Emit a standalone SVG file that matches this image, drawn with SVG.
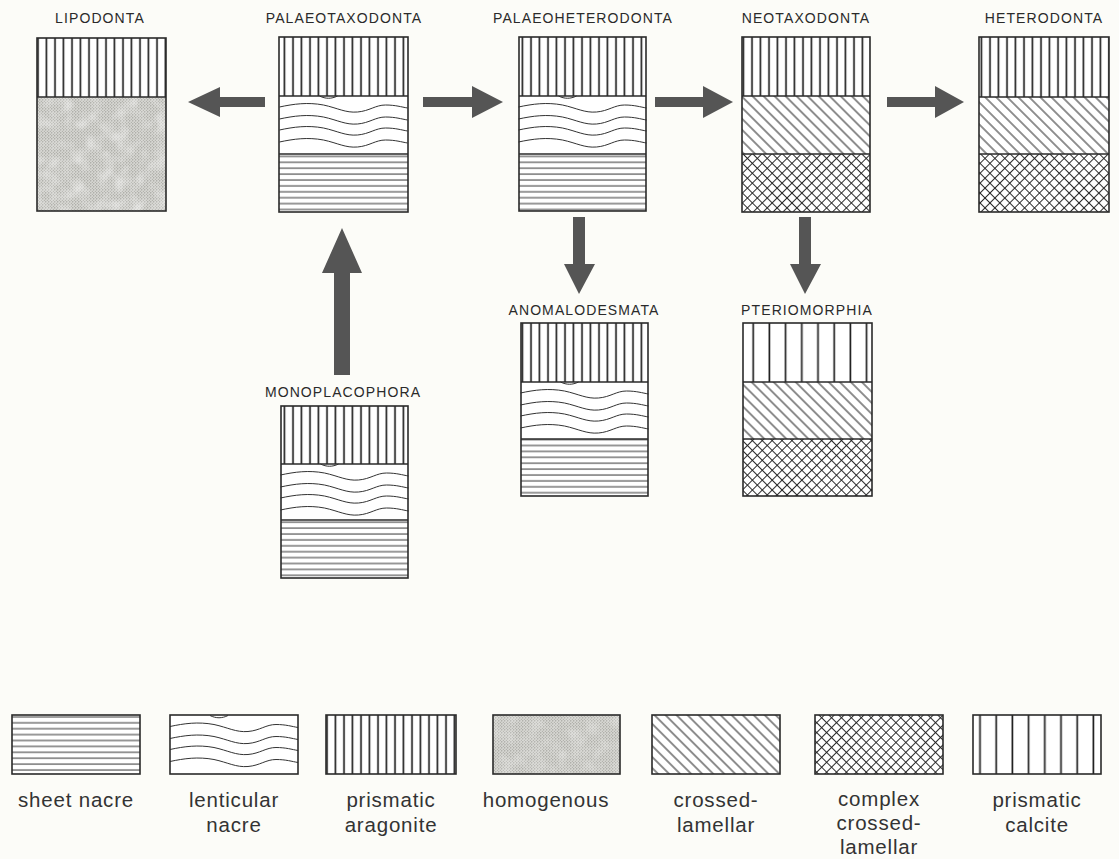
<svg xmlns="http://www.w3.org/2000/svg" xmlns:xlink="http://www.w3.org/1999/xlink" width="1119" height="859" viewBox="0 0 1119 859">
<style>
.lbl{font-family:"Liberation Sans",Arial,sans-serif;font-size:14px;letter-spacing:1.1px;fill:#2a2a2a;text-anchor:middle}
.leg{font-family:"Liberation Sans",Arial,sans-serif;font-size:20.5px;letter-spacing:0.8px;fill:#333;text-anchor:middle}
.box{fill:none;stroke:#2a2a2a;stroke-width:1.6}
.div{stroke:#2a2a2a;stroke-width:1.4}
.arrow{fill:#555}
.wave{fill:none;stroke:#333;stroke-width:1}
</style>
<defs>
<pattern id="arag" patternUnits="userSpaceOnUse" width="8.5" height="10">
<rect width="8.5" height="10" fill="#fff"/>
<line x1="4" y1="0" x2="4" y2="10" stroke="#222" stroke-width="1.7"/>
</pattern>
<pattern id="calc" patternUnits="userSpaceOnUse" width="16.2" height="10">
<rect width="16.2" height="10" fill="#fff"/>
<line x1="8" y1="0" x2="8" y2="10" stroke="#222" stroke-width="1.7"/>
</pattern>
<pattern id="sheet" patternUnits="userSpaceOnUse" width="20" height="5.9">
<rect width="20" height="5.9" fill="#fff"/>
<line x1="0" y1="3" x2="20" y2="3" stroke="#333" stroke-width="1"/>
</pattern>
<pattern id="cross" patternUnits="userSpaceOnUse" width="7.8" height="8" patternTransform="rotate(-45)">
<rect width="7.8" height="8" fill="#fff"/>
<line x1="3.9" y1="0" x2="3.9" y2="8" stroke="#222" stroke-width="1"/>
</pattern>
<pattern id="complex" patternUnits="userSpaceOnUse" width="7" height="7" patternTransform="rotate(45)">
<rect width="7" height="7" fill="#fff"/>
<line x1="3.5" y1="0" x2="3.5" y2="7" stroke="#222" stroke-width="0.95"/>
<line x1="0" y1="3.5" x2="7" y2="3.5" stroke="#222" stroke-width="0.95"/>
</pattern>
<pattern id="homo" patternUnits="userSpaceOnUse" width="3" height="3">
<rect width="3" height="3" fill="#d6d6d2"/>
<circle cx="0.8" cy="0.8" r="0.6" fill="#86867f"/>
<circle cx="2.3" cy="2.3" r="0.5" fill="#96968f"/>
</pattern>
<filter id="mottle" x="0" y="0" width="1" height="1">
<feTurbulence type="fractalNoise" baseFrequency="0.07" numOctaves="2" seed="4" result="n"/>
<feColorMatrix in="n" type="matrix" values="0 0 0 0 1  0 0 0 0 1  0 0 0 0 1  0 0 0 -2.2 1.3" result="w"/>
<feComposite in="w" in2="SourceAlpha" operator="in"/>
</filter>
<g id="lent">
<rect width="128" height="58" fill="#fff"/>
<path class="wave" d="M0,11 C14,8 28,6 44,9 C58,12 66,17 78,16 C90,15 96,9 106,9 C116,9 122,11 128,12"/>
<path class="wave" d="M0,23 C14,20 28,18 44,21 C58,24 66,29 78,28 C90,27 96,21 106,21 C116,21 122,23 128,24"/>
<path class="wave" d="M0,34 C14,31 28,29 44,32 C58,35 66,40 78,39 C90,38 96,32 106,32 C116,32 122,34 128,35"/>
<path class="wave" d="M0,46 C14,43 28,41 44,44 C58,47 66,52 78,51 C90,50 96,44 106,44 C116,44 122,46 128,47"/>
<path class="wave" d="M40,0 C46,3 52,3 58,0"/>
</g>
</defs>
<rect width="1119" height="859" fill="#fcfcf8"/>

<g id="connectors">
<polygon class="arrow" points="265,97 220,97 220,87 188,102 220,117 220,107 265,107"/>
<polygon class="arrow" points="423,97 472,97 472,86 503,102 472,118 472,107 423,107"/>
<polygon class="arrow" points="655,97 703,97 703,86 733,102 703,118 703,107 655,107"/>
<polygon class="arrow" points="887,97 935,97 935,86 964,102 935,118 935,107 887,107"/>
<polygon class="arrow" points="573,217 585,217 585,264 595,264 579,294 564,264 573,264"/>
<polygon class="arrow" points="799,217 811,217 811,264 821,264 805,294 790,264 799,264"/>
<polygon class="arrow" points="334,375 350,375 350,273 362,273 342,228 322,273 334,273"/>
</g>

<g id="lipodonta">
<text class="lbl" x="100" y="23">LIPODONTA</text>
<rect x="37" y="38" width="129" height="59" fill="url(#arag)"/>
<rect x="37" y="97" width="129" height="114" fill="url(#homo)"/>
<rect x="37" y="97" width="129" height="114" fill="#fff" filter="url(#mottle)" opacity="0.45"/>
<line class="div" x1="37" y1="97" x2="166" y2="97"/>
<rect class="box" x="37" y="38" width="129" height="173"/>
</g>

<g id="palaeotaxodonta">
<text class="lbl" x="344" y="23">PALAEOTAXODONTA</text>
<rect x="279" y="37" width="129" height="59" fill="url(#arag)"/>
<use xlink:href="#lent" href="#lent" x="279.5" y="96"/>
<rect x="279" y="154" width="129" height="58" fill="url(#sheet)"/>
<line class="div" x1="279" y1="96" x2="408" y2="96"/>
<line class="div" x1="279" y1="154" x2="408" y2="154"/>
<rect class="box" x="279" y="37" width="129" height="175"/>
</g>

<g id="palaeoheterodonta">
<text class="lbl" x="583" y="23">PALAEOHETERODONTA</text>
<rect x="519" y="37" width="127" height="59" fill="url(#arag)"/>
<use xlink:href="#lent" href="#lent" x="518.5" y="96"/>
<rect x="519" y="154" width="127" height="57" fill="url(#sheet)"/>
<line class="div" x1="519" y1="96" x2="646" y2="96"/>
<line class="div" x1="519" y1="154" x2="646" y2="154"/>
<rect class="box" x="519" y="37" width="127" height="174"/>
</g>

<g id="neotaxodonta">
<text class="lbl" x="806" y="23">NEOTAXODONTA</text>
<rect x="742" y="37" width="128" height="59" fill="url(#arag)"/>
<rect x="742" y="96" width="128" height="58" fill="url(#cross)"/>
<rect x="742" y="154" width="128" height="58" fill="url(#complex)"/>
<line class="div" x1="742" y1="96" x2="870" y2="96"/>
<line class="div" x1="742" y1="154" x2="870" y2="154"/>
<rect class="box" x="742" y="37" width="128" height="175"/>
</g>

<g id="heterodonta">
<text class="lbl" x="1044" y="23">HETERODONTA</text>
<rect x="979" y="37" width="130" height="60" fill="url(#arag)"/>
<rect x="979" y="97" width="130" height="57" fill="url(#cross)"/>
<rect x="979" y="154" width="130" height="58" fill="url(#complex)"/>
<line class="div" x1="979" y1="97" x2="1109" y2="97"/>
<line class="div" x1="979" y1="154" x2="1109" y2="154"/>
<rect class="box" x="979" y="37" width="130" height="175"/>
</g>

<g id="anomalodesmata">
<text class="lbl" x="584" y="315">ANOMALODESMATA</text>
<rect x="521" y="323" width="127" height="59" fill="url(#arag)"/>
<use xlink:href="#lent" href="#lent" x="520.5" y="382"/>
<rect x="521" y="439" width="127" height="57" fill="url(#sheet)"/>
<line class="div" x1="521" y1="382" x2="648" y2="382"/>
<line class="div" x1="521" y1="439" x2="648" y2="439"/>
<rect class="box" x="521" y="323" width="127" height="173"/>
</g>

<g id="pteriomorphia">
<text class="lbl" x="807" y="315">PTERIOMORPHIA</text>
<rect x="743" y="323" width="129" height="59" fill="url(#calc)"/>
<rect x="743" y="382" width="129" height="57" fill="url(#cross)"/>
<rect x="743" y="439" width="129" height="57" fill="url(#complex)"/>
<line class="div" x1="743" y1="382" x2="872" y2="382"/>
<line class="div" x1="743" y1="439" x2="872" y2="439"/>
<rect class="box" x="743" y="323" width="129" height="173"/>
</g>

<g id="monoplacophora">
<text class="lbl" x="343" y="397">MONOPLACOPHORA</text>
<rect x="281" y="406" width="127" height="58" fill="url(#arag)"/>
<use xlink:href="#lent" href="#lent" x="280.5" y="464"/>
<rect x="281" y="520" width="127" height="58" fill="url(#sheet)"/>
<line class="div" x1="281" y1="464" x2="408" y2="464"/>
<line class="div" x1="281" y1="520" x2="408" y2="520"/>
<rect class="box" x="281" y="406" width="127" height="172"/>
</g>

<g id="legend-sheet-nacre">
<rect x="12" y="715" width="128" height="59" fill="url(#sheet)"/>
<rect class="box" x="12" y="715" width="128" height="59"/>
<text class="leg" x="76" y="807">sheet nacre</text>
</g>
<g id="legend-lenticular-nacre">
<use xlink:href="#lent" href="#lent" x="170" y="715.5"/>
<rect class="box" x="170" y="715" width="128" height="59"/>
<text class="leg" x="234" y="807">lenticular</text>
<text class="leg" x="234" y="832">nacre</text>
</g>
<g id="legend-prismatic-aragonite">
<rect x="326" y="715" width="130" height="59" fill="url(#arag)"/>
<rect class="box" x="326" y="715" width="130" height="59"/>
<text class="leg" x="391" y="807">prismatic</text>
<text class="leg" x="391" y="832">aragonite</text>
</g>
<g id="legend-homogenous">
<rect x="493" y="715" width="127" height="59" fill="url(#homo)"/>
<rect x="493" y="715" width="127" height="59" fill="#fff" filter="url(#mottle)" opacity="0.3"/>
<rect class="box" x="493" y="715" width="127" height="59"/>
<text class="leg" x="546" y="807">homogenous</text>
</g>
<g id="legend-crossed-lamellar">
<rect x="652" y="715" width="128" height="59" fill="url(#cross)"/>
<rect class="box" x="652" y="715" width="128" height="59"/>
<text class="leg" x="716" y="807">crossed-</text>
<text class="leg" x="716" y="832">lamellar</text>
</g>
<g id="legend-complex-crossed-lamellar">
<rect x="815" y="715" width="128" height="59" fill="url(#complex)"/>
<rect class="box" x="815" y="715" width="128" height="59"/>
<text class="leg" x="879" y="806">complex</text>
<text class="leg" x="879" y="830">crossed-</text>
<text class="leg" x="879" y="854">lamellar</text>
</g>
<g id="legend-prismatic-calcite">
<rect x="973" y="715" width="128" height="59" fill="url(#calc)"/>
<rect class="box" x="973" y="715" width="128" height="59"/>
<text class="leg" x="1037" y="807">prismatic</text>
<text class="leg" x="1037" y="832">calcite</text>
</g>
</svg>
